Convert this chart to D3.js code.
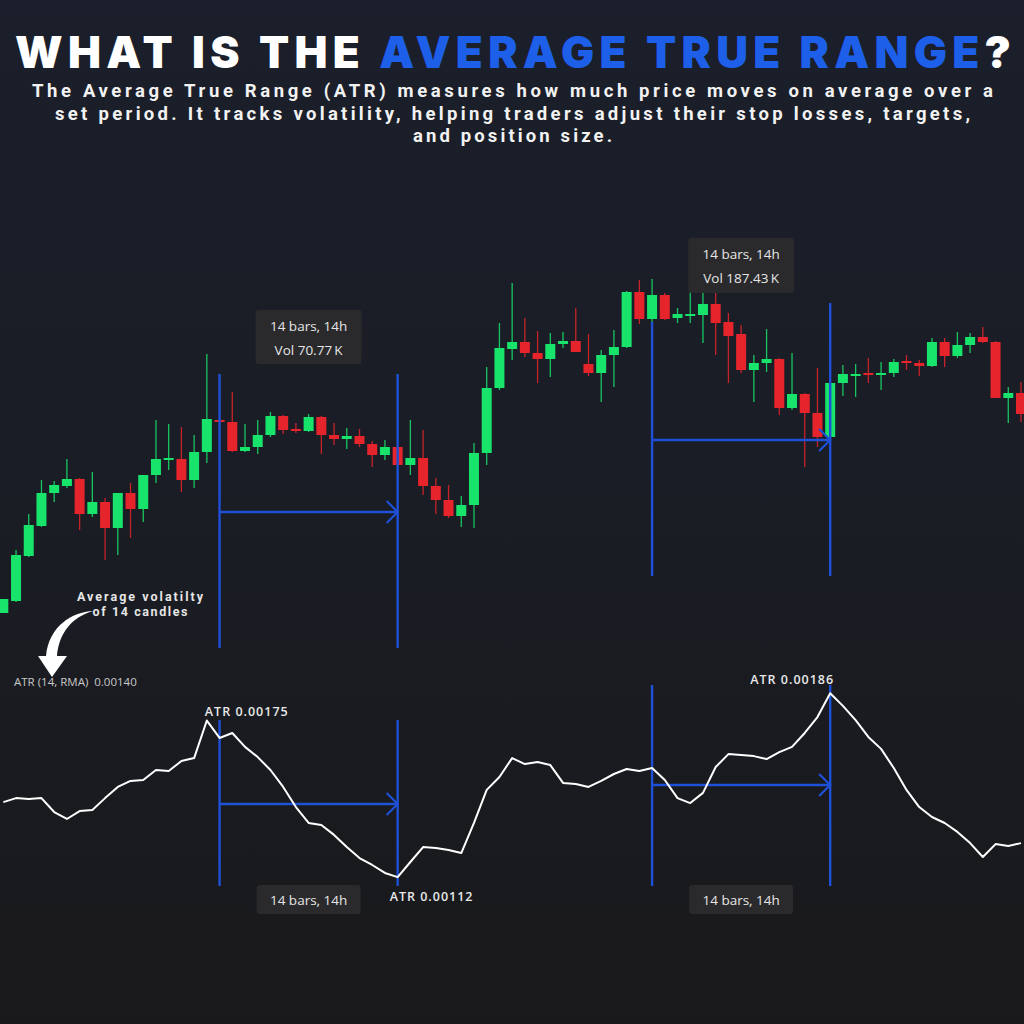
<!DOCTYPE html>
<html>
  <head>
    <meta http-equiv="Content-Type" content="text/html;charset=utf-8"/>
    <script type="text/javascript" src="https://cdn.jsdelivr.net/npm/d3@7"></script>
    <style type="text/css">
      html, body { margin: 0; padding: 0; background: #1a1c22; }
      text { font-family: "Open Sans", "DejaVu Sans", sans-serif; }
      .title { font-family: Inter, "DejaVu Sans", sans-serif; font-weight: 900; }
      .sub { font-family: Roboto, sans-serif; font-weight: 700; fill: #f2f2f2; }
      .tip { fill: #e6e6e6; font-size: 13.5px; }
      .atrlab { fill: #e8e8e8; font-size: 12.5px; font-weight: 600; letter-spacing: 1px; }
      .callout { font-family: Roboto, sans-serif; font-weight: 700; fill: #e6e6e6; font-size: 12.5px; }
    </style>
  </head>
  <body>
    <svg id="con" width="1024" height="1024"></svg>
    <script type="text/javascript">

    // hourly candles, 81 bars
    var open = [1.0607, 1.0619, 1.0664, 1.0694, 1.0727, 1.0734, 1.0741, 1.0706, 1.0718, 1.0692,
      1.0727, 1.0711, 1.0745, 1.0761, 1.0761, 1.0740, 1.0768, 1.0800, 1.0798, 1.0769,
      1.0773, 1.0785, 1.0804, 1.0791, 1.0789, 1.0803, 1.0785, 1.0781, 1.0784, 1.0776,
      1.0765, 1.0773, 1.0755, 1.0762, 1.0734, 1.0720, 1.0704, 1.0715, 1.0767, 1.0832,
      1.0871, 1.0878, 1.0867, 1.0861, 1.0876, 1.0879, 1.0856, 1.0847, 1.0865, 1.0873,
      1.0928, 1.0901, 1.0925, 1.0902, 1.0905, 1.0905, 1.0916, 1.0898, 1.0886, 1.0850,
      1.0857, 1.0861, 1.0812, 1.0826, 1.0807, 1.0783, 1.0837, 1.0845, 1.0847, 1.0845,
      1.0847, 1.0859, 1.0857, 1.0854, 1.0878, 1.0864, 1.0875, 1.0883, 1.0878, 1.0822,
      1.0827];
    var high = [1.0621, 1.0670, 1.0706, 1.0740, 1.0739, 1.0761, 1.0742, 1.0748, 1.0722, 1.0727,
      1.0737, 1.0745, 1.0800, 1.0796, 1.0793, 1.0785, 1.0866, 1.0803, 1.0828, 1.0796,
      1.0800, 1.0808, 1.0805, 1.0797, 1.0806, 1.0804, 1.0797, 1.0792, 1.0791, 1.0779,
      1.0780, 1.0775, 1.0800, 1.0790, 1.0742, 1.0735, 1.0724, 1.0777, 1.0853, 1.0897,
      1.0937, 1.0902, 1.0889, 1.0887, 1.0888, 1.0912, 1.0886, 1.0870, 1.0890, 1.0929,
      1.0940, 1.0941, 1.0927, 1.0912, 1.0932, 1.0941, 1.0955, 1.0907, 1.0895, 1.0865,
      1.0891, 1.0862, 1.0867, 1.0827, 1.0852, 1.0850, 1.0855, 1.0856, 1.0862, 1.0858,
      1.0861, 1.0865, 1.0860, 1.0882, 1.0882, 1.0888, 1.0887, 1.0893, 1.0879, 1.0833,
      1.0838];
    var low = [1.0607, 1.0618, 1.0663, 1.0693, 1.0718, 1.0732, 1.0690, 1.0703, 1.0660, 1.0665,
      1.0682, 1.0698, 1.0737, 1.0750, 1.0728, 1.0732, 1.0757, 1.0795, 1.0768, 1.0768,
      1.0766, 1.0783, 1.0786, 1.0787, 1.0788, 1.0766, 1.0775, 1.0771, 1.0773, 1.0753,
      1.0760, 1.0753, 1.0745, 1.0725, 1.0706, 1.0702, 1.0693, 1.0692, 1.0755, 1.0830,
      1.0860, 1.0863, 1.0837, 1.0843, 1.0872, 1.0868, 1.0844, 1.0818, 1.0833, 1.0872,
      1.0896, 1.0890, 1.0900, 1.0897, 1.0897, 1.0877, 1.0865, 1.0837, 1.0847, 1.0818,
      1.0848, 1.0805, 1.0810, 1.0753, 1.0773, 1.0782, 1.0824, 1.0823, 1.0837, 1.0830,
      1.0843, 1.0850, 1.0844, 1.0853, 1.0853, 1.0862, 1.0867, 1.0877, 1.0822, 1.0797,
      1.0798];
    var close = [1.0621, 1.0665, 1.0695, 1.0727, 1.0735, 1.0741, 1.0706, 1.0718, 1.0692, 1.0727,
      1.0711, 1.0745, 1.0761, 1.0762, 1.0740, 1.0768, 1.0801, 1.0798, 1.0769, 1.0773,
      1.0785, 1.0804, 1.0790, 1.0789, 1.0803, 1.0785, 1.0781, 1.0784, 1.0776, 1.0765,
      1.0773, 1.0755, 1.0762, 1.0734, 1.0720, 1.0704, 1.0715, 1.0767, 1.0832, 1.0872,
      1.0878, 1.0867, 1.0861, 1.0876, 1.0879, 1.0868, 1.0847, 1.0865, 1.0873, 1.0928,
      1.0901, 1.0925, 1.0901, 1.0906, 1.0906, 1.0916, 1.0897, 1.0884, 1.0850, 1.0857,
      1.0861, 1.0812, 1.0826, 1.0807, 1.0783, 1.0837, 1.0846, 1.0846, 1.0845, 1.0847,
      1.0858, 1.0857, 1.0854, 1.0878, 1.0864, 1.0875, 1.0883, 1.0878, 1.0822, 1.0827,
      1.0806];

    // ATR(14, RMA) per bar
    var atr = [0.001422, 0.001438, 0.001434, 0.001438, 0.001382, 0.001354, 0.001386, 0.001390, 0.001438, 0.001483,
      0.001507, 0.001511, 0.001551, 0.001547, 0.001587, 0.001599, 0.001750, 0.001680, 0.001700, 0.001644,
      0.001603, 0.001551, 0.001483, 0.001402, 0.001338, 0.001330, 0.001290, 0.001241, 0.001197, 0.001169,
      0.001137, 0.001120, 0.001181, 0.001241, 0.001237, 0.001229, 0.001217, 0.001338, 0.001471, 0.001523,
      0.001599, 0.001575, 0.001583, 0.001571, 0.001499, 0.001495, 0.001483, 0.001507, 0.001535, 0.001555,
      0.001547, 0.001559, 0.001511, 0.001438, 0.001418, 0.001459, 0.001563, 0.001615, 0.001611, 0.001607,
      0.001595, 0.001623, 0.001644, 0.001700, 0.001764, 0.001860, 0.001809, 0.001752, 0.001684, 0.001636,
      0.001559, 0.001471, 0.001402, 0.001362, 0.001338, 0.001302, 0.001257, 0.001201, 0.001253, 0.001245,
      0.001257];

    // the two 14-bar windows and their tooltips
    var spanStart = [17, 51];
    var spanEnd = [31, 65];
    var spanLabel = ["14 bars, 14h", "14 bars, 14h"];
    var spanVol = ["Vol 70.77\u2009K", "Vol 187.43\u2009K"];
    var atrMarks = [16, 31, 65];
    var atrNow = "0.00140";

    var W = 1024, H = 1024;
    var green = "#18e36b", red = "#e6242b", blue = "#1f50d8";

    var svg = d3.select("#con");
    var defs = svg.append("defs");
    var bg = defs.append("linearGradient").attr("id", "bg")
        .attr("x1", 0).attr("y1", 0).attr("x2", 0).attr("y2", 1);
    bg.append("stop").attr("offset", "0%").attr("stop-color", "#1b1f2b");
    bg.append("stop").attr("offset", "45%").attr("stop-color", "#1a1d25");
    bg.append("stop").attr("offset", "100%").attr("stop-color", "#19191b");
    svg.append("rect").attr("width", W).attr("height", H).attr("fill", "url(#bg)");

    // title + intro
    var title = svg.append("text").attr("class", "title")
        .attr("x", 513).attr("y", 68)
        .attr("text-anchor", "middle")
        .attr("font-size", 44)
        .attr("textLength", 996).attr("lengthAdjust", "spacing");
    title.append("tspan").attr("fill", "#ffffff").text("WHAT IS THE ");
    title.append("tspan").attr("fill", "#1d5fe8").text("AVERAGE TRUE RANGE");
    title.append("tspan").attr("fill", "#ffffff").text("?");

    var intro = [
      ["The Average True Range (ATR) measures how much price moves on average over a", 961],
      ["set period. It tracks volatility, helping traders adjust their stop losses, targets,", 915],
      ["and position size.", 199]
    ];
    svg.selectAll("text.sub").data(intro).enter().append("text")
        .attr("class", "sub")
        .attr("x", 512.5)
        .attr("y", function(d, i) { return 97 + i * 22.5; })
        .attr("text-anchor", "middle")
        .attr("font-size", 18.5)
        .attr("textLength", function(d) { return d[1]; })
        .attr("lengthAdjust", "spacing")
        .text(function(d) { return d[0]; });

    var n = close.length;
    var x = d3.scaleLinear().domain([0, n - 1]).range([3.3, 1021]);
    var yP = d3.scaleLinear().domain([1.0600, 1.0960]).range([620, 260]);
    var yA = d3.scaleLinear().domain([0.00100, 0.00200]).range([907, 658.4]);

    // candles
    var bars = d3.range(n).map(function(i) {
      return { i: i, o: open[i], h: high[i], l: low[i], c: close[i] };
    });
    var candle = svg.append("g").selectAll("g").data(bars).enter().append("g");
    candle.append("line")
        .attr("x1", function(d) { return x(d.i); })
        .attr("x2", function(d) { return x(d.i); })
        .attr("y1", function(d) { return yP(d.h); })
        .attr("y2", function(d) { return yP(d.l); })
        .attr("stroke", function(d) { return d.c >= d.o ? green : red; })
        .attr("stroke-width", 1.3)
        .attr("opacity", 0.85);
    candle.append("rect")
        .attr("x", function(d) { return x(d.i) - 5; })
        .attr("width", 10)
        .attr("y", function(d) { return yP(Math.max(d.o, d.c)); })
        .attr("height", function(d) { return Math.max(2, Math.abs(yP(d.o) - yP(d.c))); })
        .attr("fill", function(d) { return d.c >= d.o ? green : red; });

    // blue range markers
    function arrowHead(g, xe, ye) {
      g.append("path")
          .attr("d", "M" + (xe - 11) + "," + (ye - 11) + "L" + xe + "," + ye + "L" + (xe - 11) + "," + (ye + 11))
          .attr("fill", "none").attr("stroke", blue).attr("stroke-width", 2.2);
    }
    function vline(g, xv, y1, y2) {
      g.append("line").attr("x1", xv).attr("x2", xv).attr("y1", y1).attr("y2", y2)
          .attr("stroke", blue).attr("stroke-width", 2.4);
    }
    var marks = svg.append("g");
    // price panel: [top of left line, top of right line, bottom, arrow y]
    var pricePos = [[374, 374, 648, 512], [322, 303, 576, 440]];
    // atr panel
    var atrPos = [[720, 720, 886, 804], [685, 685, 886, 785]];
    spanStart.forEach(function(s, k) {
      var xa = x(s), xb = x(spanEnd[k]);
      [pricePos[k], atrPos[k]].forEach(function(p) {
        vline(marks, xa, p[0], p[2]);
        vline(marks, xb, p[1], p[2]);
        marks.append("line").attr("x1", xa).attr("x2", xb).attr("y1", p[3]).attr("y2", p[3])
            .attr("stroke", blue).attr("stroke-width", 2.4);
        arrowHead(marks, xb, p[3]);
      });
    });

    // tooltips over the price panel
    var tipBox = [[310, 364], [238, 293]];
    spanStart.forEach(function(s, k) {
      var cx = (x(s) + x(spanEnd[k])) / 2;
      var g = svg.append("g");
      g.append("rect").attr("x", cx - 53).attr("y", tipBox[k][0])
          .attr("width", 106).attr("height", tipBox[k][1] - tipBox[k][0])
          .attr("rx", 3).attr("fill", "#2a2a2c");
      g.append("text").attr("class", "tip").attr("x", cx).attr("y", tipBox[k][0] + 21)
          .attr("text-anchor", "middle").text(spanLabel[k]);
      g.append("text").attr("class", "tip").attr("x", cx).attr("y", tipBox[k][0] + 45)
          .attr("text-anchor", "middle").text(spanVol[k]);
      // bottom tag under the atr panel
      g.append("rect").attr("x", cx - 52).attr("y", 885)
          .attr("width", 104).attr("height", 29)
          .attr("rx", 3).attr("fill", "#2a2a2c");
      g.append("text").attr("class", "tip").attr("x", cx).attr("y", 905)
          .attr("font-size", 14)
          .attr("text-anchor", "middle").text(spanLabel[k]);
    });

    // atr line
    var line = d3.line()
        .x(function(d, i) { return x(i); })
        .y(function(d) { return yA(d); });
    svg.append("path").datum(atr)
        .attr("d", line)
        .attr("fill", "none")
        .attr("stroke", "#ffffff")
        .attr("stroke-width", 2)
        .attr("stroke-linejoin", "round");

    var fmt = d3.format(".5f");
    // label offsets: above / below / above-right
    var labOff = [[-2, -5, "start"], [-8, 24, "start"], [4, -9, "end"]];
    atrMarks.forEach(function(i, k) {
      svg.append("text").attr("class", "atrlab")
          .attr("x", x(i) + labOff[k][0])
          .attr("y", yA(atr[i]) + labOff[k][1])
          .attr("text-anchor", labOff[k][2])
          .text("ATR " + fmt(atr[i]));
    });

    svg.append("text").attr("x", 14).attr("y", 686)
        .attr("font-size", 11.5).attr("fill", "#c9c9c9")
        .attr("xml:space", "preserve")
        .text("ATR (14, RMA)  " + atrNow);

    // callout
    svg.append("text").attr("class", "callout").attr("x", 140).attr("y", 601).attr("text-anchor", "middle")
        .attr("textLength", 126).attr("lengthAdjust", "spacing")
        .text("Average volatilty");
    svg.append("text").attr("class", "callout").attr("x", 140).attr("y", 616).attr("text-anchor", "middle")
        .attr("textLength", 95).attr("lengthAdjust", "spacing")
        .text("of 14 candles");
    svg.append("path")
        .attr("d", "M93,611 C72,612 49,626 46,656 L38,656 L52,677 L67,656 L57,656 C59,633 72,617 93,611 Z")
        .attr("fill", "#ffffff");

    </script>
  </body>
</html>
